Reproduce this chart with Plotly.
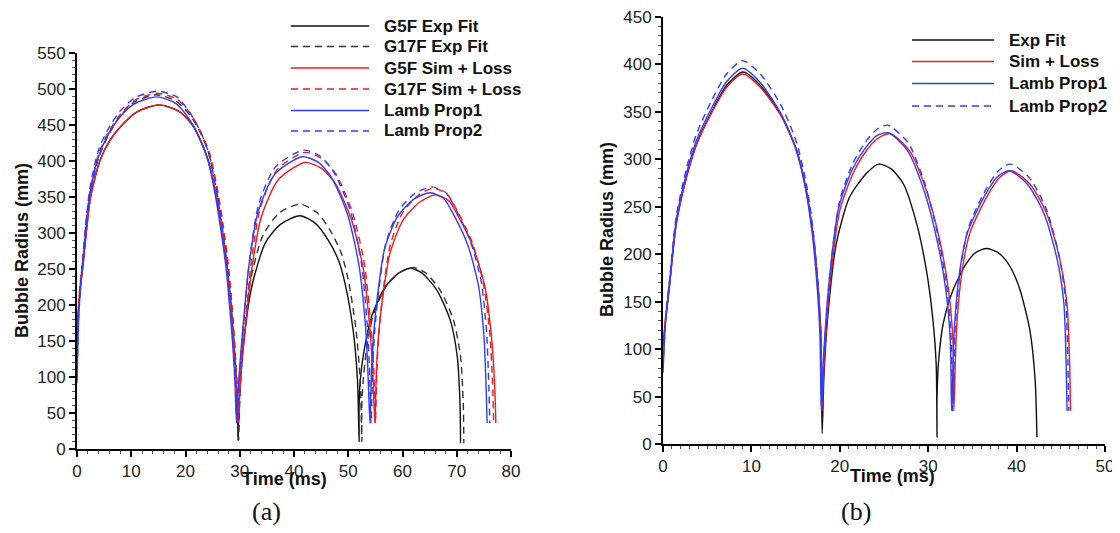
import plotly.graph_objects as go

# ---------------- data: panel (a) ----------------
a_g5f_exp_t = [0, 0.3, 0.7, 1.1, 1.7, 2.5, 4.2, 6.0, 8.3, 11.0, 15.0, 18.8, 21.3, 22.9, 24.2, 25.7, 26.8, 27.7, 28.4, 29.0, 29.4, 29.7,
               29.7, 30.0, 30.7, 32.2, 34.7, 37.5, 41.1, 44.0, 46.3, 48.2, 49.4, 50.9, 51.7, 52.0,
               52.0, 52.2, 53.0, 54.3, 56.8, 59.2, 61.4, 63.5, 66.3, 68.8, 70.1, 70.6, 70.7]
a_g5f_exp_r = [140, 195, 230, 255, 300, 350, 400, 428, 450, 468, 478, 469, 450, 426, 400, 350, 300, 250, 200, 140, 90, 12,
               12, 80, 147, 225, 286, 312, 324, 313, 290, 262, 230, 165, 96, 10,
               60, 95, 140, 184, 225, 244, 251, 245, 221, 179, 128, 63, 8]

a_g17f_exp_t = [0, 0.3, 0.7, 1.1, 1.6, 2.4, 4.0, 5.8, 7.9, 10.6, 14.6, 18.3, 21.0, 22.9, 24.3, 25.8, 26.9, 27.8, 28.5, 29.1, 29.5, 29.8,
                29.8, 30.1, 30.7, 32.0, 34.3, 37.3, 41.1, 44.3, 46.8, 48.8, 50.0, 51.4, 52.2, 52.5,
                52.5, 52.7, 53.4, 54.6, 57.0, 59.5, 62.0, 64.2, 66.9, 69.4, 70.7, 71.2, 71.3]
a_g17f_exp_r = [145, 200, 235, 262, 305, 355, 405, 436, 462, 482, 492, 483, 462, 437, 410, 358, 305, 255, 202, 140, 90, 12,
                12, 85, 152, 235, 297, 328, 340, 328, 302, 270, 235, 168, 96, 10,
                60, 90, 140, 186, 226, 245, 252, 245, 221, 179, 128, 63, 8]

a_g5f_sim_t = [0, 0.3, 0.7, 1.1, 1.7, 2.5, 4.2, 6.0, 8.3, 11.0, 15.2, 18.8, 21.3, 22.9, 24.2, 25.7, 26.8, 27.7, 28.3, 28.9, 29.3, 29.7,
               30.0, 30.4, 31.0, 32.2, 34.0, 37.1, 42.0, 45.0, 47.6, 50.6, 52.8, 54.0, 54.5, 54.9,
               55.2, 55.6, 56.2, 57.7, 60.1, 63.2, 66.0, 68.5, 70.0, 73.0, 75.2, 76.4, 77.0, 77.2]
a_g5f_sim_r = [150, 200, 232, 255, 300, 350, 400, 428, 450, 468, 478, 469, 450, 426, 400, 350, 300, 250, 200, 150, 100, 36,
               80, 120, 165, 249, 323, 374, 398, 390, 369, 318, 249, 165, 110, 36,
               110, 160, 202, 272, 318, 343, 353, 345, 327, 281, 225, 156, 87, 36]

a_g17f_sim_t = [0, 0.3, 0.7, 1.1, 1.6, 2.4, 4.0, 5.8, 8.0, 10.8, 14.8, 18.4, 21.0, 22.9, 24.4, 25.9, 27.0, 27.9, 28.5, 29.0, 29.4, 29.7,
                30.0, 30.4, 31.0, 32.1, 33.8, 36.9, 42.0, 45.2, 47.8, 50.8, 53.0, 54.2, 54.7, 55.0,
                55.3, 55.7, 56.3, 57.7, 60.0, 63.0, 65.6, 68.2, 69.8, 72.8, 74.9, 76.1, 76.6, 76.8]
a_g17f_sim_r = [150, 205, 240, 265, 308, 358, 410, 440, 465, 485, 494, 486, 465, 439, 412, 360, 308, 255, 205, 150, 100, 36,
                82, 125, 172, 258, 335, 388, 412, 403, 381, 328, 256, 168, 112, 36,
                115, 165, 210, 282, 328, 353, 362, 354, 335, 288, 230, 160, 90, 36]

a_lamb1_t = [0, 0.3, 0.7, 1.1, 1.6, 2.4, 4.0, 5.7, 7.8, 10.5, 14.6, 18.2, 20.7, 22.6, 24.0, 25.5, 26.6, 27.5, 28.1, 28.7, 29.1, 29.4,
             29.7, 30.1, 30.6, 31.7, 33.4, 36.5, 41.5, 44.5, 47.0, 49.9, 52.0, 53.2, 53.6, 54.0,
             54.3, 54.7, 55.3, 56.7, 59.1, 62.1, 65.1, 67.6, 69.1, 72.0, 74.0, 75.0, 75.4, 75.6]
a_lamb1_r = [92, 180, 228, 258, 303, 355, 407, 436, 460, 479, 489, 480, 458, 432, 405, 352, 300, 250, 200, 145, 95, 36,
             82, 125, 170, 255, 330, 382, 406, 398, 376, 325, 254, 168, 112, 36,
             112, 162, 207, 278, 323, 347, 356, 348, 330, 284, 227, 158, 88, 36]

a_lamb2_t = [0, 0.3, 0.7, 1.1, 1.6, 2.4, 4.0, 5.8, 7.9, 10.7, 14.8, 18.4, 20.9, 22.8, 24.2, 25.7, 26.8, 27.7, 28.3, 28.8, 29.2, 29.5,
             29.8, 30.2, 30.7, 31.8, 33.5, 36.6, 41.7, 44.8, 47.3, 50.3, 52.4, 53.5, 53.9, 54.2,
             54.5, 54.9, 55.5, 56.9, 59.3, 62.3, 65.4, 68.0, 69.5, 72.4, 74.5, 75.5, 75.9, 76.1]
a_lamb2_r = [95, 185, 234, 266, 312, 363, 416, 445, 469, 488, 497, 489, 466, 440, 413, 360, 306, 254, 203, 148, 97, 36,
             84, 128, 174, 262, 340, 392, 415, 407, 385, 333, 260, 172, 114, 36,
             115, 166, 212, 285, 331, 355, 364, 356, 338, 291, 233, 162, 90, 36]

# ---------------- data: panel (b) ----------------
b_exp_t = [0, 0.3, 0.76, 1.5, 2.65, 3.8, 5.5, 7.2, 9.05, 11.0, 13.4, 15.1, 16.2, 17.0, 17.5, 17.85, 18.0,
           18.2, 18.6, 19.6, 21.1, 23.0, 24.4, 25.8, 27.2, 28.7, 29.8, 30.5, 30.9, 31.0,
           31.0, 31.2, 31.7, 32.8, 34.3, 35.4, 36.6, 37.85, 38.75, 39.65, 40.4, 41.5, 42.1, 42.3]
b_exp_r = [105, 130, 169, 232, 281, 316, 350, 378, 392, 378, 346, 310, 268, 219, 170, 117, 11,
           70, 130, 211, 260, 285, 295, 290, 274, 232, 183, 134, 85, 7,
           50, 90, 127, 162, 190, 202, 206, 202, 194, 180, 162, 120, 67, 7]

b_sim_t = [0, 0.3, 0.76, 1.5, 2.65, 3.8, 5.5, 7.2, 9.0, 11.0, 13.4, 15.1, 16.2, 17.0, 17.5, 17.85, 18.0,
           18.2, 18.9, 20.0, 21.5, 23.0, 24.3, 25.7, 27.9, 29.8, 31.3, 32.3, 32.8, 32.9,
           33.2, 33.8, 34.7, 36.6, 38.1, 39.4, 41.5, 43.4, 44.9, 45.7, 46.0, 46.1]
b_sim_r = [100, 135, 169, 232, 281, 316, 349, 376, 390, 376, 345, 309, 267, 218, 169, 116, 35,
           80, 169, 246, 285, 309, 322, 327, 309, 267, 215, 162, 109, 35,
           120, 180, 222, 260, 281, 288, 274, 243, 194, 148, 85, 35]

b_lamb1_t = [0, 0.3, 0.76, 1.5, 2.65, 3.8, 5.5, 7.2, 9.0, 10.9, 13.3, 15.0, 16.1, 16.9, 17.4, 17.75, 17.9,
             18.1, 18.8, 19.9, 21.4, 22.9, 24.2, 25.5, 27.6, 29.5, 31.0, 32.0, 32.5, 32.65,
             32.95, 33.55, 34.45, 36.35, 37.85, 39.2, 41.2, 43.1, 44.6, 45.35, 45.6, 45.7]
b_lamb1_r = [75, 130, 172, 236, 285, 320, 354, 382, 396, 382, 349, 312, 270, 220, 170, 116, 35,
             82, 172, 250, 289, 312, 325, 328, 310, 268, 215, 162, 109, 35,
             120, 181, 223, 261, 282, 288, 274, 243, 194, 148, 85, 35]

b_lamb2_t = [0, 0.3, 0.76, 1.5, 2.65, 3.8, 5.5, 7.2, 9.0, 11.0, 13.4, 15.1, 16.2, 17.0, 17.5, 17.85, 17.95,
             18.15, 18.85, 19.95, 21.45, 22.95, 24.25, 25.4, 27.7, 29.6, 31.1, 32.1, 32.6, 32.75,
             33.05, 33.65, 34.55, 36.45, 37.95, 39.3, 41.4, 43.3, 44.8, 45.55, 45.8, 45.9]
b_lamb2_r = [80, 133, 175, 240, 290, 327, 362, 390, 404, 390, 356, 318, 275, 224, 173, 118, 35,
             84, 176, 255, 295, 319, 332, 336, 318, 275, 220, 166, 111, 35,
             123, 185, 228, 267, 288, 295, 281, 249, 199, 152, 87, 35]

a_names = ["G5F Exp Fit", "G17F Exp Fit", "G5F Sim + Loss", "G17F Sim + Loss", "Lamb Prop1", "Lamb Prop2"]
b_names = ["Exp Fit", "Sim + Loss", "Lamb Prop1", "Lamb Prop2"]

BLACK = "#111111"
GREY = "#333333"
RED = "#ee1c1c"
BLUE = "#2f3cff"
DASH = "7px,5px"

a_styles = [(BLACK, "solid"), (GREY, DASH), (RED, "solid"), (RED, DASH), (BLUE, "solid"), (BLUE, DASH)]
b_styles = [(BLACK, "solid"), (RED, "solid"), (BLUE, "solid"), (BLUE, DASH)]

a_series = [(a_g5f_exp_t, a_g5f_exp_r), (a_g17f_exp_t, a_g17f_exp_r), (a_g5f_sim_t, a_g5f_sim_r),
            (a_g17f_sim_t, a_g17f_sim_r), (a_lamb1_t, a_lamb1_r), (a_lamb2_t, a_lamb2_r)]
b_series = [(b_exp_t, b_exp_r), (b_sim_t, b_sim_r), (b_lamb1_t, b_lamb1_r), (b_lamb2_t, b_lamb2_r)]

# The page body has an 8px margin; the figure is sized so that it fills the rest of the window.
OFF = 8
W, H = 1112, 517
fig = go.Figure()

for (t, r), name, (c, d) in zip(a_series, a_names, a_styles):
    fig.add_trace(go.Scatter(x=t, y=r, name=name, mode="lines", showlegend=False,
                             line=dict(color=c, dash=d, width=1.4, shape="spline", smoothing=0.7),
                             xaxis="x", yaxis="y"))
for (t, r), name, (c, d) in zip(b_series, b_names, b_styles):
    fig.add_trace(go.Scatter(x=t, y=r, name=name, mode="lines", showlegend=False,
                             line=dict(color=c, dash=d, width=1.4, shape="spline", smoothing=0.7),
                             xaxis="x2", yaxis="y2"))

def px(v):
    return (v - OFF) / W

def py(v):
    return 1 - (v - OFF) / H

tickfont = dict(family="Liberation Sans, Arial", size=17, color="#222")

def axis(domain, rng, anchor, minor_dtick):
    return dict(domain=domain, range=rng, dtick=50 if rng[1] > 100 else 10, anchor=anchor,
                automargin=False, showline=True, linecolor="black", linewidth=2,
                ticks="outside", ticklen=6, tickwidth=2, tickcolor="black",
                showgrid=False, zeroline=False, tickfont=tickfont, ticklabeloverflow="allow",
                minor=dict(ticks="outside", ticklen=3, tickwidth=1, tickcolor="#555", dtick=minor_dtick))

fig.update_layout(
    width=W, height=H, margin=dict(l=0, r=0, t=0, b=0, autoexpand=False),
    plot_bgcolor="white", paper_bgcolor="white",
    xaxis=axis([px(77), px(511)], [0, 80], "y", 2),
    yaxis=axis([py(449), py(53)], [0, 550], "x", 10),
    xaxis2=axis([px(663), px(1105)], [0, 50], "y2", 1),
    yaxis2=axis([py(444), py(17)], [0, 450], "x2", 10),
)

bold = dict(family="Liberation Sans, Arial", size=18, color="#111")
ann = []
ann.append(dict(text="<b>Bubble Radius (mm)</b>", x=px(22), y=py(251), textangle=-90, font=bold))
ann.append(dict(text="<b>Bubble Radius (mm)</b>", x=px(607), y=py(230), textangle=-90, font=bold))
ann.append(dict(text="<b>Time (ms)</b>", x=px(284), y=py(479), font=bold))
ann.append(dict(text="<b>Time (ms)</b>", x=px(892), y=py(476), font=bold))
serif = dict(family="Liberation Serif, Times New Roman", size=26, color="#111")
ann.append(dict(text="(a)", x=px(266), y=py(511), font=serif))
ann.append(dict(text="(b)", x=px(856), y=py(511), font=serif))

shapes = []
legfont = dict(family="Liberation Sans, Arial", size=17, color="#111")
a_rows = [26, 46.5, 68, 89, 110.5, 131]
for name, (c, d), yy in zip(a_names, a_styles, a_rows):
    shapes.append(dict(type="line", xref="paper", yref="paper", x0=px(291), x1=px(369), y0=py(yy), y1=py(yy),
                       line=dict(color=c, dash=d, width=1.4)))
    ann.append(dict(text="<b>" + name + "</b>", x=px(382), y=py(yy), xanchor="left", font=legfont))
b_rows = [40, 61.5, 83.5, 106]
for name, (c, d), yy in zip(b_names, b_styles, b_rows):
    shapes.append(dict(type="line", xref="paper", yref="paper", x0=px(912), x1=px(994), y0=py(yy), y1=py(yy),
                       line=dict(color=c, dash=d, width=1.4)))
    ann.append(dict(text="<b>" + name + "</b>", x=px(1007), y=py(yy), xanchor="left", font=legfont))

for a in ann:
    a.setdefault("xanchor", "center")
    a.update(xref="paper", yref="paper", showarrow=False, yanchor="middle")
fig.update_layout(annotations=ann, shapes=shapes)

fig.write_html("out.html")
